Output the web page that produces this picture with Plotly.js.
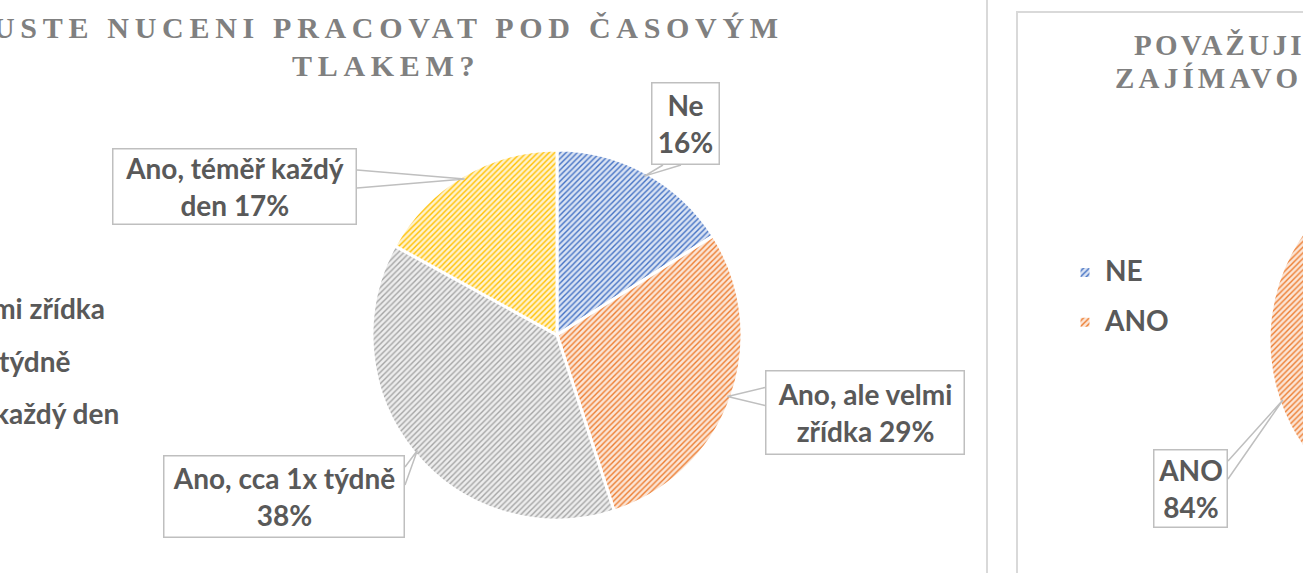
<!DOCTYPE html>
<html><head><meta charset="utf-8">
<script src="https://cdn.plot.ly/plotly-3.0.1.min.js"></script>
<style>
html,body{margin:0;padding:0;width:1303px;height:573px;overflow:hidden;background:#fff}
#wrap{position:absolute;left:0;top:0;width:1303px;height:573px;overflow:hidden}
#chart{position:absolute;left:-260px;top:0;width:1960px;height:600px}
g.legendpoints{transform:translateY(5px)}
</style></head><body>
<div id="wrap"><div id="chart"></div></div>
<script>
// ---------- data ----------
const leftTitleLine1 = "USTE NUCENI PRACOVAT POD ČASOVÝM";
const leftTitleLine2 = "TLAKEM?";
const leftCategories = ["Ne", "Ano, ale velmi zřídka", "Ano, cca 1x týdně", "Ano, téměř každý den"];
const leftValues = [16, 29, 38, 17];
const leftLabelWrap = ["Ne<br>", "Ano, ale velmi<br>zřídka ", "Ano, cca 1x týdně<br>", "Ano, téměř každý<br>den "];

const rightTitleLine1 = "POVAŽUJI";
const rightTitleLine2 = "ZAJÍMAVO";
const rightCategories = ["NE", "ANO"];
const rightValues = [16, 84];
const rightLabelWrap = ["NE<br>", "ANO<br>"];

// ---------- styles / geometry ----------
const W = 1960, H = 600, SX0 = -260;
const X = sx => (sx - SX0) / W;
const Y = sy => 1 - sy / H;

const strong = ["#4472C4", "#ED7D31", "#A5A5A5", "#FFC000"];
const light  = ["#DAE3F3", "#FBE5D6", "#EDEDED", "#FFF2CC"];
const txtCol = "#595959";
const FONT = "Lato, 'Open Sans', sans-serif";
const lblFont = {family: FONT, size: 28, color: txtCol, weight: "bold"};

const leftPie  = {cx: 557, cy: 335, r: 185, rotation: 0};
const rightPie = {cx: 1455, cy: 340, r: 186, rotation: 42};

const leftBoxes = [
  {cx: 685.5, cy: 123.5, w: 69, h: 83},
  {cx: 865, cy: 412.5, w: 200, h: 85},
  {cx: 284, cy: 496.5, w: 242, h: 83},
  {cx: 234.5, cy: 186.5, w: 245, h: 77}
];
const rightBoxes = [
  {cx: 1580, cy: 110, w: 60, h: 79},
  {cx: 1190.5, cy: 488.5, w: 75, h: 79}
];

function pieTrace(cats, vals, geo, legendId) {
  return {
    type: "pie", labels: cats.map(c => '<span style="font-size:28px">' + c + '</span>'),
    values: vals, sort: false, direction: "clockwise", rotation: geo.rotation,
    textinfo: "none", hoverinfo: "percent", legend: legendId, showlegend: true,
    domain: {x: [X(geo.cx - geo.r), X(geo.cx + geo.r)], y: [Y(geo.cy + geo.r), Y(geo.cy - geo.r)]},
    marker: {
      colors: light.slice(0, vals.length),
      line: {color: "#FFFFFF", width: 3},
      pattern: {shape: "/", fgcolor: strong.slice(0, vals.length), bgcolor: light.slice(0, vals.length), size: 4, solidity: 0.35}
    }
  };
}

function tips(vals, geo) {
  const sum = vals.reduce((a, b) => a + b, 0);
  let cum = 0;
  return vals.map(v => {
    const a = (geo.rotation + 360 * (cum + v / 2) / sum) * Math.PI / 180;
    cum += v;
    return [geo.cx + geo.r * 0.98 * Math.sin(a), geo.cy - geo.r * 0.98 * Math.cos(a)];
  });
}

function tailPath(b, tip) {
  const x0 = b.cx - b.w / 2, x1 = b.cx + b.w / 2, y0 = b.cy - b.h / 2, y1 = b.cy + b.h / 2;
  const px = Math.min(Math.max(tip[0], x0), x1), py = Math.min(Math.max(tip[1], y0), y1);
  const onV = (px === x0 || px === x1), onH = (py === y0 || py === y1);
  let p1, p2;
  if (onV && onH) {
    const sx = (px === x0 ? 1 : -1), sy = (py === y0 ? 1 : -1);
    if (Math.abs(tip[1] - py) > Math.abs(tip[0] - px)) {
      p1 = [px + sx * 12, py]; p2 = [px + sx * 30, py];
    } else {
      p1 = [px, py + sy * 12]; p2 = [px, py + sy * 30];
    }
  } else if (onV) {
    const c = Math.min(Math.max(py, y0 + 11), y1 - 11);
    p1 = [px, c - 9]; p2 = [px, c + 9];
  } else {
    const c = Math.min(Math.max(px, x0 + 11), x1 - 11);
    p1 = [c - 9, py]; p2 = [c + 9, py];
  }
  const f = (p) => X(p[0]).toFixed(5) + "," + Y(p[1]).toFixed(5);
  return {type: "path", xref: "paper", yref: "paper", layer: "above",
    path: "M" + f(p1) + " L" + f(tip) + " L" + f(p2),
    line: {color: "#BFBFBF", width: 1.5}};
}

function boxAnn(b, text) {
  return {xref: "paper", yref: "paper", x: X(b.cx), y: Y(b.cy), xanchor: "center", yanchor: "middle",
    text: text, showarrow: false, width: b.w - 3, height: b.h - 3, align: "center", valign: "middle",
    bgcolor: "#FFFFFF", bordercolor: "#BFBFBF", borderwidth: 1.5, borderpad: 0, font: lblFont};
}

function titleAnn(sx, sy, text, size, spacing) {
  return {xref: "paper", yref: "paper", x: X(sx), y: Y(sy), xanchor: "left", yanchor: "middle",
    showarrow: false, text: '<span style="letter-spacing:' + spacing + 'px">' + text + '</span>',
    font: {family: "'Liberation Serif', serif", size: size, color: "#808080", weight: "bold"}};
}

const leftTips = tips(leftValues, leftPie);
const rightTips = tips(rightValues, rightPie);

const annotations = [
  titleAnn(-9, 28, leftTitleLine1, 30, 5.7),
  titleAnn(290, 66, leftTitleLine2, 30, 5.7),
  titleAnn(1132, 45, rightTitleLine1, 29, 3.3),
  titleAnn(1113, 78, rightTitleLine2, 29, 4.2)
];
leftValues.forEach((v, i) => annotations.push(boxAnn(leftBoxes[i], leftLabelWrap[i] + v + "%")));
rightValues.forEach((v, i) => annotations.push(boxAnn(rightBoxes[i], rightLabelWrap[i] + v + "%")));

const shapes = [
  {type: "line", xref: "paper", yref: "paper", x0: X(987), x1: X(987), y0: 0, y1: 1, line: {color: "#D9D9D9", width: 2}},
  {type: "rect", xref: "paper", yref: "paper", x0: X(1017), x1: X(1690), y0: Y(12), y1: Y(590), line: {color: "#D9D9D9", width: 2}}
];
leftValues.forEach((v, i) => shapes.push(tailPath(leftBoxes[i], leftTips[i])));
rightValues.forEach((v, i) => shapes.push(tailPath(rightBoxes[i], rightTips[i])));

const legendCommon = {xanchor: "left", yanchor: "top", bgcolor: "rgba(0,0,0,0)", borderwidth: 0,
  font: {family: FONT, size: 38, color: txtCol, weight: "bold"}, itemclick: false, itemdoubleclick: false};

const layout = {
  width: W, height: H, margin: {l: 0, r: 0, t: 0, b: 0},
  paper_bgcolor: "#FFFFFF", plot_bgcolor: "#FFFFFF",
  showlegend: true,
  legend: Object.assign({}, legendCommon, {x: X(-191), y: Y(221)}),
  legend2: Object.assign({}, legendCommon, {x: X(1065), y: Y(237.5), font: Object.assign({}, legendCommon.font, {size: 36})}),
  annotations: annotations, shapes: shapes
};

Plotly.newPlot("chart", [pieTrace(leftCategories, leftValues, leftPie, "legend"), pieTrace(rightCategories, rightValues, rightPie, "legend2")], layout, {displayModeBar: false, staticPlot: true});
</script>
</body></html>
